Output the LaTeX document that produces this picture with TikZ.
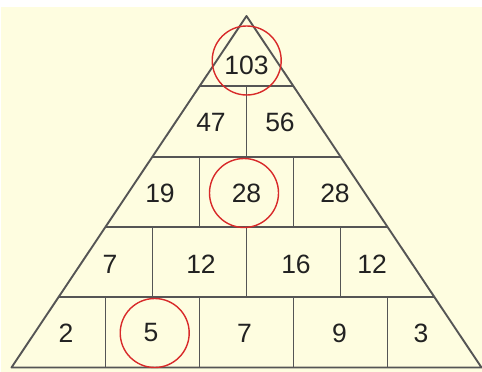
\documentclass[tikz,border=0pt]{standalone}
\usepackage{fontspec}
\setmainfont{Liberation Sans}
\definecolor{cream}{HTML}{FEFDE0}
\definecolor{edge}{HTML}{555555}
\definecolor{ring}{HTML}{D82A2A}
\definecolor{ink}{HTML}{222222}
\begin{document}
\begin{tikzpicture}[x=1pt,y=-1pt,
  grid/.style={draw=edge,line width=1.9pt,line join=round},
  num/.style={text=ink,font=\fontsize{26.5}{30}\selectfont,inner sep=0pt},
  redring/.style={circle,draw=ring,line width=1.4pt,minimum size=69pt,inner sep=0pt}]
\useasboundingbox (0,0) rectangle (482,372);
\fill[white] (0,0) rectangle (482,372);
\fill[cream] (1,7) rectangle (482,372);
% triangle outline
\coordinate (A) at (246.5,16);
\coordinate (L) at (11.5,367.5);
\coordinate (R) at (481.5,367.5);
\draw[grid] (A) -- (L) -- (R) -- cycle;
% horizontal lines
\draw[grid] (199.5,86.3) -- (293.5,86.3);
\draw[grid] (152.5,156.6) -- (340.5,156.6);
\draw[grid] (105.5,226.9) -- (387.5,226.9);
\draw[grid] (58.5,297.2) -- (434.5,297.2);
% verticals
\draw[grid] (246.5,86.3) -- (246.5,156.6);
\draw[grid] (199.5,156.6) -- (199.5,226.9);
\draw[grid] (293.5,156.6) -- (293.5,226.9);
\draw[grid] (152.5,226.9) -- (152.5,297.2);
\draw[grid] (246.5,226.9) -- (246.5,297.2);
\draw[grid] (340.5,226.9) -- (340.5,297.2);
\draw[grid] (105.5,297.2) -- (105.5,367.5);
\draw[grid] (199.5,297.2) -- (199.5,367.5);
\draw[grid] (293.5,297.2) -- (293.5,367.5);
\draw[grid] (387.5,297.2) -- (387.5,367.5);
% numbers
\node[num] (n103) at (246.5,65) {103};
\node[num] (n47) at (211,122.5) {47};
\node[num] (n56) at (280,122.5) {56};
\node[num] (n19) at (160,193) {19};
\node[num] (n28a) at (246.5,193) {28};
\node[num] (n28b) at (335,193) {28};
\node[num] (n7a) at (110,264) {7};
\node[num] (n12a) at (201,264) {12};
\node[num] (n16) at (296,264) {16};
\node[num] (n12b) at (372,264) {12};
\node[num] (n2) at (66,333) {2};
\node[num] (n5) at (151,333) {5};
\node[num] (n7b) at (244.5,333) {7};
\node[num] (n9) at (339.5,333) {9};
\node[num] (n3) at (421,333) {3};
% red circles
\node[redring] (r1) at (246.7,60.5) {};
\node[redring] (r2) at (244,193) {};
\node[redring] (r3) at (154.7,333) {};
\end{tikzpicture}
\end{document}
